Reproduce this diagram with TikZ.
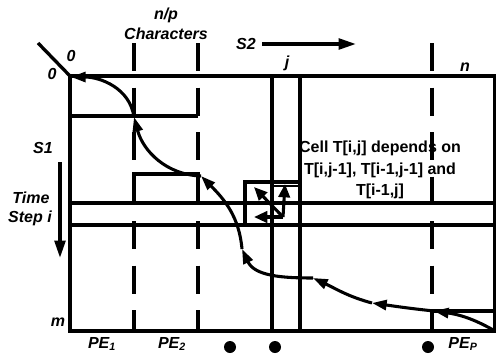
\documentclass[tikz,border=0pt]{standalone}
\usepackage{fontspec}
\setmainfont{Liberation Sans}
\usetikzlibrary{arrows.meta}
\begin{document}
\begin{tikzpicture}[x=0.75pt,y=-0.75pt,
  ln/.style={line width=2.5pt},
  dln/.style={line width=2.5pt, dash pattern=on 21pt off 12.4pt},
  crv/.style={line width=2.3pt, -{Triangle[length=11pt,width=7.5pt]}},
  bigarr/.style={line width=2.5pt, -{Triangle[length=13pt,width=8pt]}},
  sarr/.style={line width=2.3pt, -{Triangle[length=10pt,width=8.5pt]}},
  lbl/.style={font=\fontsize{12}{14}\selectfont\bfseries\itshape, inner sep=0pt},
  txt/.style={font=\fontsize{12}{16}\selectfont\bfseries, align=center, inner sep=0pt},
  dot/.style={circle, fill=black, minimum size=9pt, inner sep=0pt}]
\useasboundingbox (0,0) rectangle (496,354);

% dashed PE boundaries
\draw[dln] (134,43) -- (134,331);
\draw[dln] (198,43) -- (198,331);
\draw[dln] (432,43) -- (432,331);

% main frame
\coordinate (tl) at (70,76);
\coordinate (br) at (495,331);
\draw[ln] (tl) rectangle (br);
\coordinate (d0) at (38,43);
\draw[ln] (d0) -- (tl);

% column j
\coordinate (ja) at (272,76); \coordinate (jb) at (272,331);
\coordinate (jc) at (300,76); \coordinate (jd) at (300,331);
\draw[ln] (ja) -- (jb);
\draw[ln] (jc) -- (jd);

% row i
\coordinate (ra) at (70,203); \coordinate (rb) at (495,203);
\coordinate (rc) at (70,225); \coordinate (rd) at (495,225);
\draw[ln] (ra) -- (rb);
\draw[ln] (rc) -- (rd);

% staircase
\coordinate (s1a) at (70,116); \coordinate (s1b) at (198,116);
\draw[ln] (s1a) -- (s1b);
\coordinate (s2a) at (134,203); \coordinate (s2b) at (134,174);
\coordinate (s2c) at (198,174); \coordinate (s2d) at (198,203);
\draw[ln] (s2a) -- (s2b) -- (s2c) -- (s2d);
\coordinate (s3a) at (245,225); \coordinate (s3b) at (245,182);
\coordinate (s3c) at (300,182);
\draw[ln] (s3a) -- (s3b) -- (s3c);
\coordinate (s3d) at (272,185.5); \coordinate (s3e) at (300,185.5);
\draw[line width=1.5pt] (s3d) -- (s3e);
\coordinate (s4a) at (432,311); \coordinate (s4b) at (495,311);
\coordinate (s4c) at (432,331);
\draw[ln] (s4a) -- (s4b);
\draw[ln] (s4a) -- (s4c);

% wavefront curve
\coordinate (c0) at (71,77);
\coordinate (c1) at (134,117);
\coordinate (c2) at (201,176);
\coordinate (c3) at (242,249);
\coordinate (c4) at (313,278);
\coordinate (c5) at (372,303);
\coordinate (c6) at (434,311);
\coordinate (c7) at (495,331);
\draw[crv] (c7) to[out=150,in=-8] (c6);
\draw[crv] (c6) to[out=174,in=-8] (c5);
\draw[crv] (c5) to[out=165,in=-25] (c4);
\draw[crv] (c4) to[out=180,in=-65] (c3);
\draw[crv] (c3) to[out=95,in=-45] (c2);
\draw[crv] (c2) to[out=178,in=-75] (c1);
\draw[crv] (c1) to[out=98,in=0] (c0);

% dependency arrows
\coordinate (o) at (283,217);
\coordinate (tL) at (254,217);
\coordinate (tU) at (285,184);
\coordinate (tD) at (254,187);
\draw[sarr] (o) -- (tL);
\draw[sarr] (o) -- (tU);
\draw[sarr] (o) -- (tD);

% direction arrows
\coordinate (s2s) at (262,44); \coordinate (s2e) at (356,44);
\draw[bigarr] (s2s) -- (s2e);
\coordinate (s1s) at (60,162); \coordinate (s1e) at (60,258);
\draw[bigarr] (s1s) -- (s1e);

% labels
\node[lbl] (np) at (166,15) {n/p};
\node[lbl] (chars) at (166,34) {Characters};
\node[lbl] (ls2) at (246,44) {S2};
\node[lbl] (lj) at (287,63) {j};
\node[lbl] (ln) at (465,67) {n};
\node[lbl] (z1) at (71,56) {0};
\node[lbl] (z2) at (52,74) {0};
\node[lbl] (ls1) at (43,148) {S1};
\node[lbl] (time) at (31,198) {Time};
\node[lbl] (step) at (30,218) {Step i};
\node[lbl] (lm) at (58,322) {m};
\node[lbl] (pe1) at (102,344) {PE\textsubscript{1}};
\node[lbl] (pe2) at (172,344) {PE\textsubscript{2}};
\node[lbl] (pep) at (463,344) {PE\textsubscript{P}};
\node[dot] (dt1) at (230,347) {};
\node[dot] (dt2) at (275,347) {};
\node[dot] (dt3) at (428,347) {};
\node[txt] (cell) at (380,170) {Cell T[i,j] depends on\\T[i,j-1], T[i-1,j-1] and\\T[i-1,j]};
\end{tikzpicture}
\end{document}
